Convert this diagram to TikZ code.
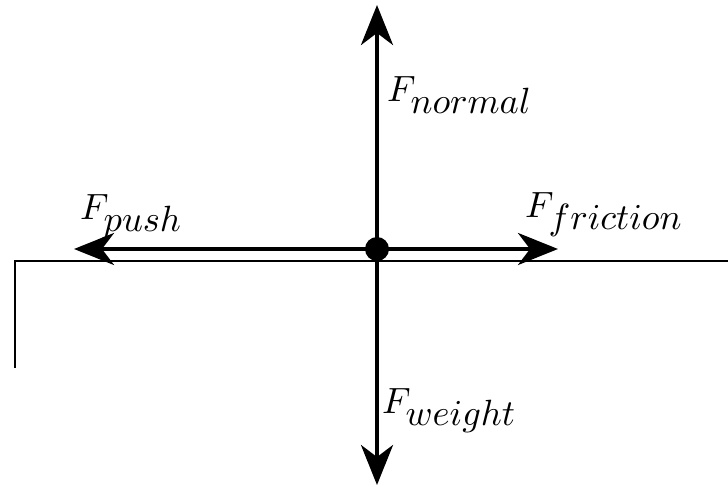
\documentclass[tikz,border=0pt]{standalone}
\usetikzlibrary{arrows.meta}
\newcommand{\biglbl}[2]{\scalebox{3.65}{$#1_{\textstyle #2}$}}
\begin{document}
\begin{tikzpicture}[x=1pt,y=-1pt,
  force/.style={line width=4pt,-{Stealth[length=40pt,width=32pt,inset=12pt]}},
  ground/.style={line width=2pt},
  lbl/.style={inner sep=0pt,anchor=base west}]
\useasboundingbox (0,0) rectangle (728,487);
\coordinate (c) at (377,249);
\coordinate (up) at (377,5);
\coordinate (dn) at (377,485);
\coordinate (lf) at (74,249);
\coordinate (rt) at (558,249);
\coordinate (g0) at (15,368);
\coordinate (g1) at (15,261);
\coordinate (g2) at (728,261);
\draw[ground] (g0) -- (g1) -- (g2);
\draw[force] (c) -- (up);
\draw[force] (c) -- (dn);
\draw[force] (c) -- (lf);
\draw[force] (c) -- (rt);
\fill (c) circle (12pt);
\node[lbl] (n) at (387,101) {\biglbl{F}{normal}};
\node[lbl] (p) at (80,219) {\biglbl{F}{push}};
\node[lbl] (f) at (525,217) {\biglbl{F}{friction}};
\node[lbl] (w) at (382,413) {\biglbl{F}{weight}};
\end{tikzpicture}
\end{document}
